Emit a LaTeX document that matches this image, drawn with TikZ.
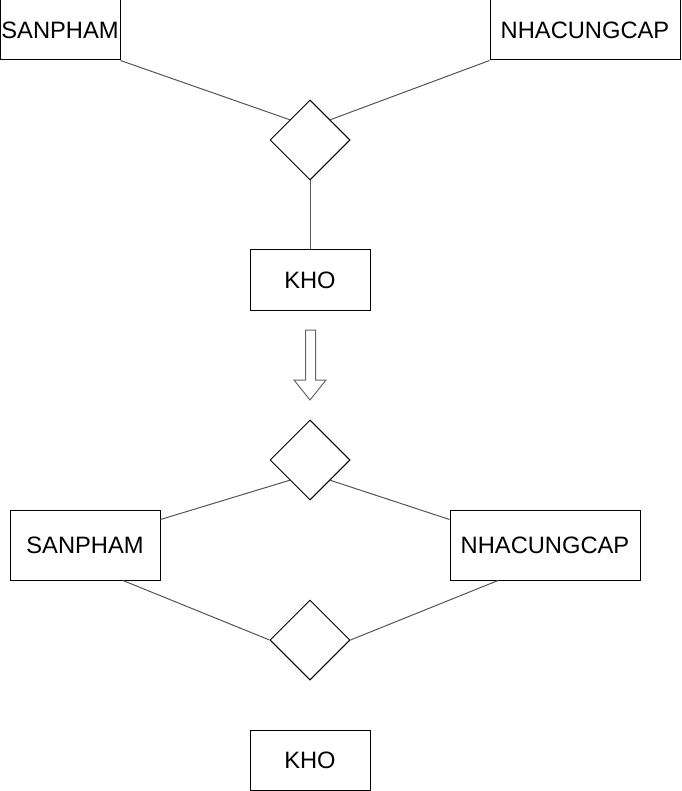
\documentclass[tikz,border=0pt]{standalone}
\usepackage{fontspec}
\setmainfont{Liberation Sans}
\usetikzlibrary{shapes.geometric}
\definecolor{conn}{HTML}{555555}
\definecolor{arr}{HTML}{666666}
\begin{document}
\begin{tikzpicture}[x=1pt,y=-1pt,
  entity/.style={draw=black,line width=1pt,rectangle,inner sep=0pt,
    font=\fontsize{23.7}{26}\selectfont},
  rel/.style={draw=black,line width=1pt,diamond,inner sep=0pt,
    minimum width=80pt,minimum height=80pt},
  link/.style={draw=conn,line width=1pt}]
\useasboundingbox[fill=white] (0,0) rectangle (681,791);
% top part
\node[entity,minimum width=120pt,minimum height=60pt] (sp1) at (60,30) {SANPHAM};
\node[entity,minimum width=190pt,minimum height=60pt] (nc1) at (585,30) {NHACUNGCAP};
\node[rel] (d1) at (310,140) {};
\node[entity,minimum width=120pt,minimum height=60pt] (kho1) at (310,280) {KHO};
\draw[link] (sp1.south east) -- (d1.north west);
\draw[link] (nc1.south west) -- (d1.north east);
\draw[link] (d1.south) -- (kho1.north);
% block arrow
\draw[draw=arr,line width=1pt,fill=white,line join=miter]
  (305.5,330) -- (315.5,330) -- (315.5,380) -- (326,380) -- (310,400)
  -- (294,380) -- (305.5,380) -- cycle;
% bottom part
\node[rel] (d2) at (310,460) {};
\node[entity,minimum width=150pt,minimum height=70pt] (sp2) at (85,545) {SANPHAM};
\node[entity,minimum width=190pt,minimum height=70pt] (nc2) at (545,545) {NHACUNGCAP};
\node[rel] (d3) at (310,640) {};
\node[entity,minimum width=120pt,minimum height=60pt] (kho2) at (310,760) {KHO};
\draw[link] ([yshift=-10pt]sp2.north east) -- (d2.south west);
\draw[link] ([yshift=-10pt]nc2.north west) -- (d2.south east);
\draw[link] ([xshift=38pt]sp2.south) -- (d3.west);
\draw[link] ([xshift=-47pt]nc2.south) -- (d3.east);
\end{tikzpicture}
\end{document}
